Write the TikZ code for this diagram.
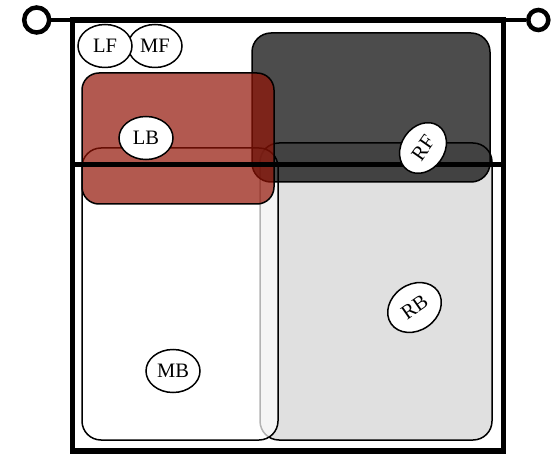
\documentclass[tikz,border=0pt]{standalone}
\usepackage{fontspec}
\setmainfont{Liberation Serif}
\usepackage{xcolor}
\usepackage{tikz}
\usetikzlibrary{shapes.geometric}
\definecolor{rbgray}{RGB}{224,224,224}
\definecolor{lbred}{RGB}{146,19,5}

\begin{document}
\begin{tikzpicture}[x=1pt,y=-1pt,
  region/.style={draw,line width=1.5pt,rounded corners=19pt,fill opacity=0.7,
                 inner sep=0pt},
  label/.style={draw,ellipse,fill=white,line width=1.5pt,inner sep=0pt,
                minimum width=54pt,minimum height=43pt,
                font=\fontsize{20.5}{24}\selectfont},
  frame/.style={line width=5.5pt,line join=miter},
  stub/.style={line width=4.5pt},
  term/.style={circle,draw,fill=white,line width=4.5pt,inner sep=0pt}
]
\useasboundingbox (0,0) rectangle (556,454);
% regions
\node[region,fill=rbgray,fill opacity=1,minimum width=232pt,minimum height=297pt] (rb) at (376,291.5) {};
\node[region,fill=white,minimum width=196pt,minimum height=292pt] (mb) at (180,294) {};
\node[region,fill=black,minimum width=238pt,minimum height=149pt] (rf) at (371,107.5) {};
\node[region,fill=lbred,rounded corners=17pt,minimum width=192pt,minimum height=131pt] (lb) at (178,138.5) {};
% frame
\node[term,minimum size=25pt] (tl) at (36.7,20) {};
\node[term,minimum size=20pt] (tr) at (538.3,20) {};
\coordinate (ftl) at (72.5,20);
\coordinate (ftr) at (503.5,20);
\draw[stub] (tl) -- (ftl);
\draw[stub] (tr) -- (ftr);
\draw[frame] (ftl) rectangle (503.5,451);
\draw[frame] (72.5,164.5) -- (503.5,164.5);
% labels
\node[label] (mf) at (155,46) {MF};
\node[label] (lf) at (105,46) {LF};
\node[label] (lbl) at (146,138) {LB};
\node[label] (mbl) at (173,371) {MB};
\node[label,rotate=55] (rfl) at (423,148) {RF};
\node[label,rotate=35,minimum width=57pt,minimum height=46pt] (rbl) at (414.5,307.5) {RB};
\end{tikzpicture}
\end{document}
